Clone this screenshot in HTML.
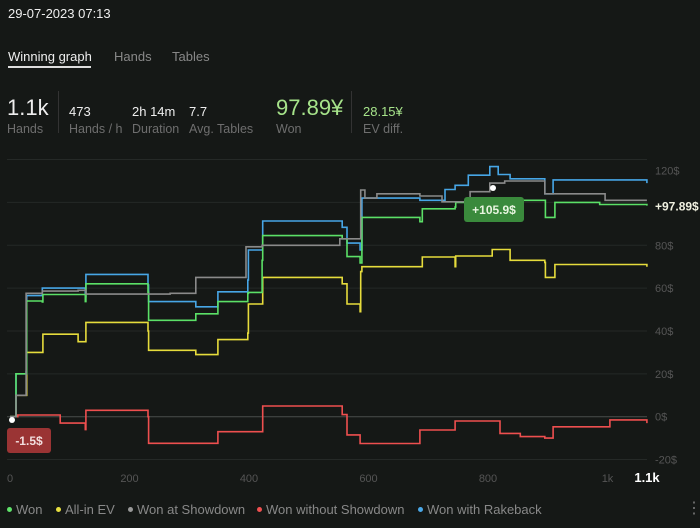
<!DOCTYPE html>
<html><head><meta charset="utf-8">
<style>
body{margin:0;width:700px;height:528px;background:#151816;font-family:"Liberation Sans",sans-serif;color:#ddd;overflow:hidden;position:relative}
.a{position:absolute;white-space:nowrap}
.g{color:#777}
.big{font-size:22px;color:#eee}
.md{font-size:13px;color:#eee}
.lb{font-size:12.5px;color:#6e6e6e}
.leg{font-size:13px;color:#888}
.dot{display:inline-block;width:5px;height:5px;border-radius:50%;margin-right:4px;vertical-align:middle;position:relative;top:-1px}
</style></head><body>
<div class="a" style="left:8px;top:6px;font-size:13px;color:#eee">29-07-2023 07:13</div>
<div class="a" style="left:8px;top:49px;font-size:13px;color:#eee">Winning graph</div>
<div class="a" style="left:8px;top:66px;width:83px;height:2px;background:#ddd"></div>
<div class="a" style="left:114px;top:49px;font-size:13px;color:#888">Hands</div>
<div class="a" style="left:172px;top:49px;font-size:13px;color:#888">Tables</div>

<div class="a big" style="left:7px;top:95px">1.1k</div>
<div class="a lb" style="left:7px;top:122px">Hands</div>
<div class="a" style="left:58px;top:91px;width:1px;height:42px;background:#333"></div>
<div class="a md" style="left:69px;top:104px">473</div>
<div class="a lb" style="left:69px;top:122px">Hands / h</div>
<div class="a md" style="left:132px;top:104px">2h 14m</div>
<div class="a lb" style="left:132px;top:122px">Duration</div>
<div class="a md" style="left:189px;top:104px">7.7</div>
<div class="a lb" style="left:189px;top:122px">Avg. Tables</div>
<div class="a big" style="left:276px;top:95px;color:#a6e38a">97.89¥</div>
<div class="a lb" style="left:276px;top:122px">Won</div>
<div class="a" style="left:351px;top:91px;width:1px;height:42px;background:#333"></div>
<div class="a md" style="left:363px;top:104px;color:#a6e38a">28.15¥</div>
<div class="a lb" style="left:363px;top:122px">EV diff.</div>

<svg class="a" style="left:0;top:0" width="700" height="528" id="chart">
<g id="grid"></g><g id="lines"></g><g id="labels" font-family="Liberation Sans, sans-serif"></g>
</svg>

<div class="a leg" style="left:7px;top:502px"><span class="dot" style="background:#5fe36a"></span>Won</div>
<div class="a leg" style="left:56px;top:502px"><span class="dot" style="background:#e8e040"></span>All-in EV</div>
<div class="a leg" style="left:128px;top:502px"><span class="dot" style="background:#999"></span>Won at Showdown</div>
<div class="a leg" style="left:257px;top:502px"><span class="dot" style="background:#f05050"></span>Won without Showdown</div>
<div class="a leg" style="left:418px;top:502px"><span class="dot" style="background:#4aa8e8"></span>Won with Rakeback</div>
<div class="a" style="left:686px;top:498px;color:#777;font-size:16px">⋮</div>

<script>
const yTicks=[-20,0,20,40,60,80,120];
const xTicks=[0,200,400,600,800,1000];
const xTickLabels=["0","200","400","600","800","1k"];
const wonH=[0,8,10,27,28,54,55,126,127,231,232,311,348,398,399,422,423,556,564,586,588,589,686,690,745,746,807,895,896,909,912,987,1066];
const wonV=[0,0,20,20,54,53.5,57,53.7,62,58,45,48,53.7,57.6,58,73,84.5,83,74.7,71.7,71.7,93,91,97,97.8,100,101,101,93,93,100,99,98.5];
const evH=[0,10,27,28,54,55,114,126,127,231,232,311,348,398,399,423,556,564,586,587,589,686,690,745,746,807,837,895,896,912,1066];
const evV=[0,10,10,30,30,38.5,35,35,44,40,31,29,36,39,52.6,65,62,52.6,49,67.7,70,70,74.5,70,75,78,73,72,65,71,70];
const sdH=[0,10,27,54,114,127,268,311,395,422,552,587,594,614,686,723,770,803,828,895,996,1066];
const sdV=[0,10,57.6,58.6,59,57.2,57.6,65,79.3,80,83,105.8,102,104,103,100.3,105,109,110,104,101,101];
const nsH=[0,13,84,126,127,231,232,311,348,422,423,556,564,586,686,745,820,854,895,909,1004,1066];
const nsV=[0,0.8,-3,-6,3,0,-12.4,-12.4,-7,-7,5,1,-8.5,-12.5,-6.2,-2,-7.8,-9.3,-10,-4.7,-1.5,-3];
const rbH=[0,10,27,28,54,126,127,231,232,311,348,398,399,423,556,564,586,589,686,728,745,767,803,817,837,895,909,1066];
const rbV=[0,20,21,56.5,60,56,66.4,61.4,53.7,51.3,58.3,63.8,77.8,91.3,88.4,81,77.8,102,101,106,108,112.7,116.7,113,111,104,110.5,109];

const NS='http://www.w3.org/2000/svg';
const X=h=>10+h*0.5975, Y=v=>416.7-v*2.143;
function mk(t,a,p){const e=document.createElementNS(NS,t);for(const k in a)e.setAttribute(k,a[k]);p.appendChild(e);return e;}
const grid=document.getElementById('grid'),lines=document.getElementById('lines'),lab=document.getElementById('labels');
[-20,0,20,40,60,80,100,120].forEach(v=>{
  const l=mk('line',{x1:7,x2:647,y1:Y(v),y2:Y(v),stroke:v===0?'#4a4d4b':'#252927','stroke-width':1},grid);
  
  
});
yTicks.forEach(v=>{
  const t=mk('text',{x:655,y:(v===120?Y(v)+15:Y(v)+4),fill:'#555','font-size':11},lab);
  t.textContent=v+'$';
  
  
});
xTicks.forEach((v,i)=>{
  const t=mk('text',{x:X(v),y:482,fill:'#555','font-size':11,'text-anchor':'middle'},lab);
  t.textContent=xTickLabels[i];
  
  
});
const endT=mk('text',{x:647,y:482,fill:'#fff','font-size':13,'font-weight':'bold','text-anchor':'middle'},lab);
endT.textContent='1.1k';


function step(H,V,color,name){
  let d='M'+X(H[0])+','+Y(V[0]);
  for(let i=1;i<H.length;i++){d+=' H'+X(H[i]).toFixed(1)+' V'+Y(V[i]).toFixed(1);}
  const p=mk('path',{d:d,fill:'none',stroke:color,'stroke-width':1.6},lines);
  
  
}
step(nsH,nsV,'#ee4f4f','line-won-without-showdown');
step(evH,evV,'#e6dc3c','line-all-in-ev');
step(rbH,rbV,'#47a6e6','line-won-with-rakeback');
step(wonH,wonV,'#5be067','line-won');
step(sdH,sdV,'#8a8a8a','line-won-at-showdown');
const lastV=wonV[wonV.length-1];
const ft=mk('text',{x:655,y:Y(lastV)+5,fill:'#f0f0e0','font-size':12,'font-weight':'bold'},lab);
ft.textContent='+97.89$';


// tooltips
const minR=mk('rect',{x:7,y:428,width:44,height:25,rx:3,fill:'#9a3434'},lab);


const minT=mk('text',{x:29,y:445,fill:'#f2dede','font-size':12,'font-weight':'bold','text-anchor':'middle'},lab);
minT.textContent='-1.5$';


mk('circle',{cx:12,cy:420,r:3,fill:'#fff'},lab);
const maxR=mk('rect',{x:464,y:197,width:60,height:25,rx:3,fill:'#3a8a3c'},lab);


const maxT=mk('text',{x:494,y:214,fill:'#e8f5e0','font-size':12,'font-weight':'bold','text-anchor':'middle'},lab);
maxT.textContent='+105.9$';


mk('circle',{cx:493,cy:188,r:3,fill:'#fff'},lab);
</script>
</body></html>
